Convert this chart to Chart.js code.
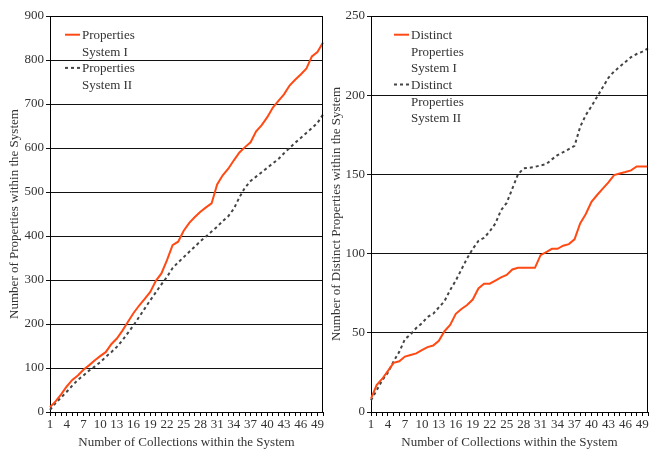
<!DOCTYPE html>
<html>
<head>
<meta charset="utf-8">
<script src="https://cdn.jsdelivr.net/npm/chart.js@4.4.0/dist/chart.umd.min.js"></script>
<style>
  html, body { margin: 0; padding: 0; background: #fff; overflow: hidden; }
  #leftBox { position: absolute; left: 0; top: 0; width: 325px; height: 449px; }
  #rightBox { position: absolute; left: 325px; top: 0; width: 324px; height: 449px; }
</style>
</head>
<body>
<div id="leftBox"><canvas id="leftChart" width="325" height="449"></canvas></div>
<div id="rightBox"><canvas id="rightChart" width="324" height="449"></canvas></div>
<script>
// Eixo X: numero de colecoes (1..50)
const collections = [1, 2, 3, 4, 5, 6, 7, 8, 9, 10, 11, 12, 13, 14, 15, 16, 17, 18, 19, 20,
    21, 22, 23, 24, 25, 26, 27, 28, 29, 30, 31, 32, 33, 34, 35, 36, 37, 38, 39, 40,
    41, 42, 43, 44, 45, 46, 47, 48, 49, 50];

// Grafico da esquerda: propriedades
const propsSystem1 = [11, 24, 40, 58, 73, 83, 96, 106, 117, 127,
    136, 154, 167, 185, 205, 225, 242, 257, 273, 298,
    315, 345, 379, 387, 412, 430, 443, 455, 465, 474,
    517, 538, 553, 572, 590, 602, 613, 638, 652, 670,
    692, 707, 722, 742, 755, 767, 780, 808, 818, 840];
const propsSystem2 = [5, 20, 33, 46, 60, 73, 83, 94, 103, 113,
    125, 136, 148, 163, 180, 197, 216, 235, 254, 272,
    290, 307, 327, 340, 352, 364, 376, 388, 399, 410,
    421, 434, 445, 462, 488, 510, 525, 535, 545, 555,
    565, 575, 588, 600, 612, 623, 634, 645, 657, 676];

// Grafico da direita: propriedades distintas
const distinctSystem1 = [8.4, 17, 21, 26, 31, 32, 35, 36, 37, 39,
    41, 42, 45, 51, 55, 62, 65, 67.5, 71, 78,
    81, 81, 83, 85, 86.5, 90, 91, 91, 91, 91,
    99, 101, 103, 103, 105, 106, 109, 119, 125, 132.7,
    137, 141, 145, 149.6, 150.6, 151.5, 152.5, 155, 155, 155];
const distinctSystem2 = [7.4, 13.7, 20, 25, 32, 38, 46, 49, 53, 56,
    60, 62, 66, 70, 77, 83, 90, 97, 103, 108,
    110, 114, 119, 127.4, 132, 141, 150, 153.8, 154.2, 154.8,
    155.7, 156.5, 159.5, 162.2, 164, 166, 168, 180, 187.5, 193,
    199, 205, 211, 215, 218, 221, 224, 226, 227.5, 229.6];

const leftLegend = [['Properties', 'System I'], ['Properties', 'System II']];
const rightLegend = [['Distinct', 'Properties', 'System I'], ['Distinct', 'Properties', 'System II']];

const orange = '#ff4a14';
const gray = '#444';
const serif = '"Liberation Serif", "DejaVu Serif", serif';

// Legenda dentro da area do grafico + moldura
const innerLegend = {
    id: 'innerLegend',
    afterDatasetsDraw(chart, args, opts) {
        const ctx = chart.ctx;
        const a = chart.chartArea;
        ctx.save();
        ctx.strokeStyle = '#000';
        ctx.lineWidth = 1;
        ctx.beginPath();
        ctx.moveTo(Math.round(a.left) + 0.5, Math.round(a.top) + 0.5);
        ctx.lineTo(Math.round(a.right) - 0.5, Math.round(a.top) + 0.5);
        ctx.lineTo(Math.round(a.right) - 0.5, Math.round(a.bottom) + 0.5);
        ctx.stroke();

        ctx.font = '13px ' + serif;
        ctx.textBaseline = 'middle';
        let y = a.top + opts.top;
        chart.data.datasets.forEach(ds => {
            ctx.beginPath();
            ctx.setLineDash(ds.borderDash || []);
            ctx.strokeStyle = ds.borderColor;
            ctx.lineWidth = ds.borderWidth;
            ctx.moveTo(a.left + opts.left, y - 1);
            ctx.lineTo(a.left + opts.left + 15, y - 1);
            ctx.stroke();
            ctx.setLineDash([]);
            ctx.fillStyle = '#333';
            ds.legendLines.forEach(line => {
                ctx.fillText(line, a.left + opts.left + 17, y);
                y += opts.lineHeight;
            });
        });
        ctx.restore();
    }
};

function makeChart(canvasId, s1, s2, legend, yMax, yStep, yTitle, yWidth, yTitlePad, padRight) {
    return new Chart(document.getElementById(canvasId), {
        type: 'line',
        data: {
            labels: collections,
            datasets: [{
                label: legend[0].join(' '),
                legendLines: legend[0],
                data: s1,
                borderColor: orange,
                borderWidth: 2,
                pointRadius: 0,
                tension: 0
            }, {
                label: legend[1].join(' '),
                legendLines: legend[1],
                data: s2,
                borderColor: gray,
                borderWidth: 2,
                borderDash: [3, 3],
                pointRadius: 0,
                tension: 0
            }]
        },
        options: {
            responsive: false,
            animation: false,
            layout: { padding: { top: 16, right: padRight, left: 0, bottom: 0 } },
            scales: {
                x: {
                    ticks: {
                        autoSkip: false,
                        maxRotation: 0,
                        color: '#333',
                        padding: 1,
                        font: { family: serif, size: 13 },
                        callback: function(v, i) { return i % 3 === 0 ? String(collections[i]) : ''; }
                    },
                    grid: { drawOnChartArea: false, tickLength: 4, color: '#000' },
                    border: { color: '#000' },
                    title: {
                        display: true,
                        text: 'Number of Collections within the System',
                        color: '#333',
                        font: { family: serif, size: 13, lineHeight: 1 },
                        padding: 0
                    },
                    afterFit(s) { s.height = 37; }
                },
                y: {
                    min: 0,
                    max: yMax,
                    ticks: { stepSize: yStep, color: '#333', padding: 2, font: { family: serif, size: 13 } },
                    grid: { color: '#111', tickLength: 4 },
                    border: { color: '#000' },
                    title: {
                        display: true,
                        text: yTitle,
                        color: '#333',
                        font: { family: serif, size: 13 },
                        padding: { top: yTitlePad, bottom: 0 }
                    },
                    afterFit(s) { s.width = yWidth; }
                }
            },
            plugins: {
                legend: { display: false },
                tooltip: { enabled: false },
                innerLegend: { left: legend === leftLegend ? 15 : 23, top: 19.7, lineHeight: 16.6 }
            }
        },
        plugins: [innerLegend]
    });
}

makeChart('leftChart', propsSystem1, propsSystem2, leftLegend, 900, 100,
    'Number of Properties within the System', 50, 7, 2);
makeChart('rightChart', distinctSystem1, distinctSystem2, rightLegend, 250, 50,
    'Number of Distinct Properties within the System', 46, 4, 1);
</script>
</body>
</html>
